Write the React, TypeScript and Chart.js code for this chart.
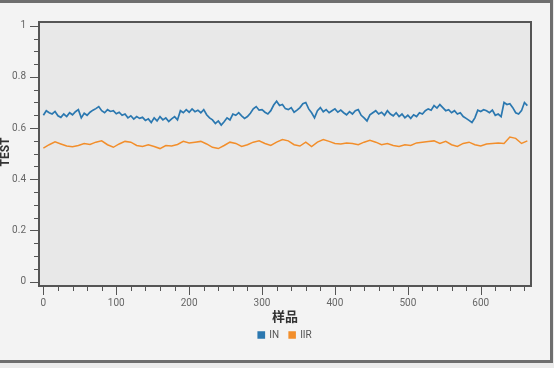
import React, { useEffect, useRef } from 'react';
import { Chart, registerables } from 'chart.js';

Chart.register(...registerables);

// ---- data ----
const sampleStepIN = 4;
const valuesIN = [
  0.650, 0.668, 0.660, 0.655, 0.665, 0.648, 0.642, 0.655, 0.645, 0.660,
  0.652, 0.664, 0.672, 0.640, 0.658, 0.650, 0.662, 0.670, 0.676, 0.684,
  0.668, 0.660, 0.672, 0.665, 0.668, 0.656, 0.662, 0.650, 0.655, 0.640,
  0.648, 0.635, 0.645, 0.638, 0.642, 0.630, 0.636, 0.622, 0.640, 0.628,
  0.645, 0.632, 0.640, 0.626, 0.636, 0.645, 0.632, 0.668, 0.660, 0.672,
  0.662, 0.675, 0.664, 0.670, 0.660, 0.672, 0.652, 0.640, 0.632, 0.618,
  0.628, 0.612, 0.625, 0.640, 0.632, 0.655, 0.650, 0.660, 0.648, 0.638,
  0.645, 0.658, 0.675, 0.684, 0.670, 0.672, 0.662, 0.655, 0.668, 0.690,
  0.705, 0.688, 0.692, 0.676, 0.672, 0.680, 0.662, 0.670, 0.680, 0.695,
  0.700, 0.675, 0.660, 0.640, 0.668, 0.680, 0.664, 0.672, 0.660, 0.668,
  0.675, 0.662, 0.670, 0.660, 0.652, 0.664, 0.655, 0.668, 0.672, 0.650,
  0.640, 0.628, 0.652, 0.660, 0.668, 0.655, 0.662, 0.650, 0.668, 0.655,
  0.648, 0.660, 0.645, 0.655, 0.640, 0.650, 0.638, 0.652, 0.645, 0.660,
  0.655, 0.668, 0.675, 0.670, 0.688, 0.678, 0.692, 0.680, 0.668, 0.672,
  0.660, 0.668, 0.655, 0.660, 0.645, 0.638, 0.630, 0.622, 0.640, 0.670,
  0.665, 0.672, 0.668, 0.660, 0.670, 0.650, 0.655, 0.645, 0.700, 0.692,
  0.695, 0.680, 0.660, 0.655, 0.668, 0.700, 0.688,
];
const sampleStepIIR = 8;
const valuesIIR = [
  0.522, 0.535, 0.546, 0.538, 0.530, 0.527, 0.532, 0.540, 0.536, 0.545,
  0.550, 0.535, 0.525, 0.538, 0.548, 0.545, 0.532, 0.528, 0.535, 0.528,
  0.520, 0.532, 0.530, 0.536, 0.548, 0.542, 0.545, 0.548, 0.538, 0.525,
  0.520, 0.532, 0.545, 0.540, 0.528, 0.535, 0.545, 0.550, 0.540, 0.532,
  0.545, 0.555, 0.550, 0.535, 0.530, 0.545, 0.528, 0.545, 0.555, 0.548,
  0.540, 0.538, 0.542, 0.540, 0.535, 0.545, 0.552, 0.545, 0.535, 0.540,
  0.532, 0.528, 0.535, 0.532, 0.542, 0.545, 0.548, 0.550, 0.540, 0.548,
  0.535, 0.528, 0.540, 0.545, 0.535, 0.530, 0.538, 0.540, 0.542, 0.540,
  0.565, 0.560, 0.540, 0.550,
];
const seriesNames = ['IN', 'IIR'];
const seriesColors = ['#2b78b0', '#f28e2b'];
const xTitle = '样品';
const yTitle = 'TEST';
const xMajorLabels = ['0', '100', '200', '300', '400', '500', '600'];
const yMajorLabels = ['0', '0.2', '0.4', '0.6', '0.8', '1'];
const xMinorStep = 20;
const yMinorStep = 0.05;
const xRange = [-6, 669];
const yRange = [-0.017, 1.0145];

const toPoints = (vals: number[], step: number) => vals.map((v, i) => ({ x: i * step, y: v }));

const isMajor = (labels: string[], v: number) => labels.includes(String(v));

const framePlugin = {
  id: 'frame',
  beforeDraw(chart: any) {
    const { ctx, chartArea } = chart;
    const { left, top, right, bottom } = chartArea;
    ctx.save();
    ctx.fillStyle = '#e8e8e8';
    ctx.fillRect(left, top, right - left, bottom - top);
    ctx.restore();
  },
  afterDraw(chart: any) {
    const { ctx, chartArea, scales } = chart;
    const { left, top, right, bottom } = chartArea;
    ctx.save();
    ctx.strokeStyle = '#555555';
    ctx.lineWidth = 2;
    ctx.strokeRect(left, top, right - left, bottom - top);
    ctx.lineWidth = 1;
    ctx.beginPath();
    for (const t of scales.y.ticks) {
      const py = Math.round(scales.y.getPixelForValue(t.value)) + 0.5;
      const len = isMajor(yMajorLabels, t.value) ? 8 : 4;
      ctx.moveTo(left - 1 - len, py);
      ctx.lineTo(left - 1, py);
    }
    for (const t of scales.x.ticks) {
      const px = Math.round(scales.x.getPixelForValue(t.value)) + 0.5;
      const len = isMajor(xMajorLabels, t.value) ? 8 : 4;
      ctx.moveTo(px, bottom + 1);
      ctx.lineTo(px, bottom + 1 + len);
    }
    ctx.stroke();
    ctx.fillStyle = '#333333';
    ctx.font = 'bold 12px Roboto, "Noto Sans", sans-serif';
    ctx.textAlign = 'center';
    ctx.textBaseline = 'alphabetic';
    ctx.translate(9, (top + bottom) / 2 - 2);
    ctx.rotate(-Math.PI / 2);
    ctx.fillText(yTitle, 0, 0);
    ctx.restore();
    ctx.save();
    ctx.fillStyle = '#333333';
    ctx.font = 'bold 13px "Noto Sans CJK SC", sans-serif';
    ctx.textAlign = 'center';
    ctx.textBaseline = 'middle';
    ctx.fillText(xTitle, (left + right) / 2, 313);
    ctx.restore();
  },
};

export default function App() {
  const ref = useRef<HTMLCanvasElement>(null);
  useEffect(() => {
    if (!ref.current) return;
    const chart = new Chart(ref.current, {
      type: 'line',
      data: {
        datasets: [
          {
            label: seriesNames[0],
            data: toPoints(valuesIN, sampleStepIN),
            borderColor: seriesColors[0],
            backgroundColor: seriesColors[0],
            borderWidth: 1.7,
            pointRadius: 0,
            tension: 0,
          },
          {
            label: seriesNames[1],
            data: toPoints(valuesIIR, sampleStepIIR),
            borderColor: seriesColors[1],
            backgroundColor: seriesColors[1],
            borderWidth: 1.5,
            pointRadius: 0,
            tension: 0,
          },
        ],
      },
      options: {
        animation: false,
        responsive: false,
        layout: { padding: { left: 0, right: 0, top: 19, bottom: 10 } },
        plugins: {
          tooltip: { enabled: false },
          legend: {
            position: 'bottom',
            labels: {
              boxWidth: 6,
              boxHeight: 6,
              padding: 10,
              color: '#555555',
              font: { size: 10, family: 'Roboto, "Noto Sans", sans-serif' },
            },
          },
        },
        scales: {
          x: {
            type: 'linear',
            min: xRange[0],
            max: xRange[1],
            grid: { display: false, drawTicks: false },
            border: { display: false },
            afterFit: (s: any) => { s.height = 34; },
            afterBuildTicks: (s: any) => {
              const t = [];
              for (let v = 0; v <= xRange[1]; v += xMinorStep) t.push({ value: v });
              s.ticks = t;
            },
            ticks: {
              autoSkip: false,
              maxRotation: 0,
              padding: 11,
              color: '#666666',
              font: { size: 10, family: 'Roboto, "Noto Sans", sans-serif' },
              callback: (v: any) => (isMajor(xMajorLabels, v) ? String(v) : ''),
            },
          },
          y: {
            type: 'linear',
            position: 'left',
            min: yRange[0],
            max: yRange[1],
            grid: { display: false, drawTicks: false },
            border: { display: false },
            afterFit: (s: any) => { s.width = 39; },
            afterBuildTicks: (s: any) => {
              const t = [];
              const n = Math.round(1 / yMinorStep);
              for (let i = 0; i <= n; i++) t.push({ value: Math.round(i * yMinorStep * 100) / 100 });
              s.ticks = t;
            },
            ticks: {
              autoSkip: false,
              padding: 13,
              color: '#666666',
              font: { size: 10, family: 'Roboto, "Noto Sans", sans-serif' },
              callback: (v: any) => (isMajor(yMajorLabels, v) ? String(v) : ''),
            },
          },
          yRightSpacer: {
            type: 'linear',
            position: 'right',
            display: true,
            grid: { display: false, drawTicks: false },
            border: { display: false },
            ticks: { display: false },
            afterFit: (s: any) => { s.width = 39; },
          },
        },
      },
      plugins: [framePlugin],
    } as any);
    return () => chart.destroy();
  }, []);

  return (
    <div style={{ position: 'fixed', inset: 0, background: '#ebebeb' }}>
      <div
        style={{
          position: 'absolute',
          left: -3,
          top: 0,
          width: 556,
          height: 363,
          boxSizing: 'border-box',
          border: '3px solid #6e6e6e',
          background: '#f3f3f3',
          overflow: 'hidden',
        }}
      >
        <canvas ref={ref} width={570} height={357} style={{ display: 'block' }} />
      </div>
    </div>
  );
}
